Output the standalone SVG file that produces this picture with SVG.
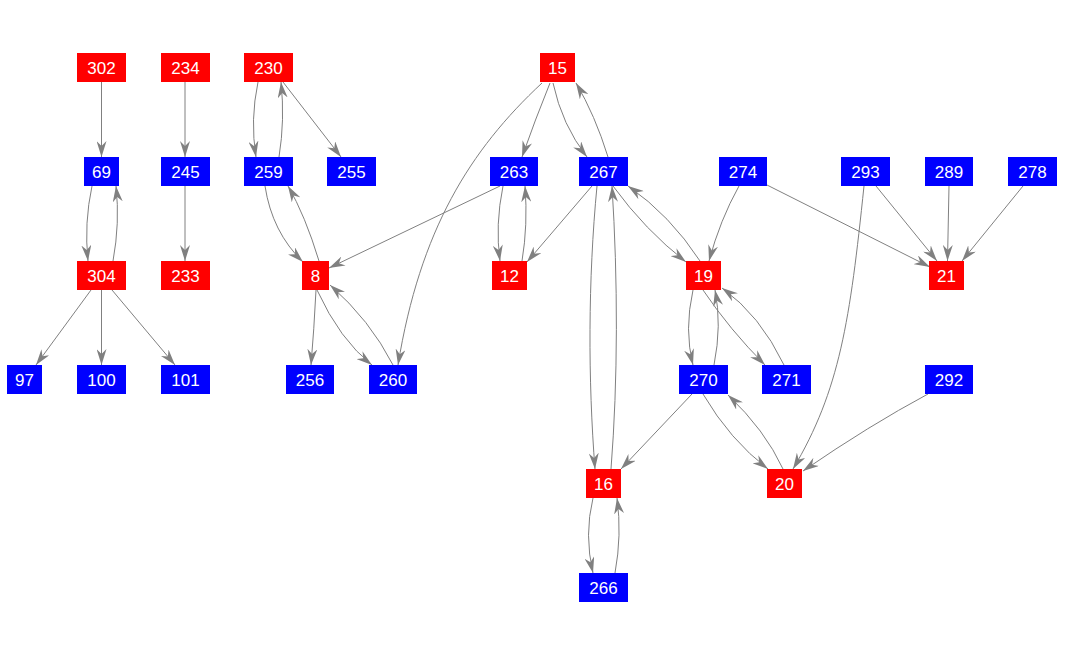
<svg xmlns="http://www.w3.org/2000/svg" width="1065" height="656" viewBox="0 0 1065 656">
<defs>
<style>
.r{fill:#ff0000}
.b{fill:#0000ff}
text{font-family:"Liberation Sans",Arial,sans-serif;font-size:17px;fill:#ffffff;text-anchor:middle}
#edges path{fill:none;stroke:#808080;stroke-width:1;marker-end:url(#ah)}
</style>
<marker id="ah" viewBox="0 0 16 10" refX="16" refY="5" markerWidth="16" markerHeight="10" markerUnits="userSpaceOnUse" orient="auto">
<path d="M0,0 L16,5 L0,10 L5,5 Z" fill="#808080"/>
</marker>
</defs>
<rect width="1065" height="656" fill="#ffffff"/>
<g id="edges">
<path d="M101.5,82 L101.5,157"/>
<path d="M185,82 L185,157"/>
<path d="M185,186 L185,261"/>
<path d="M92,186 Q84,223 88,261"/>
<path d="M113,261 Q120,223 116,186"/>
<path d="M91,290 L36,365"/>
<path d="M101.5,290 L101.5,365"/>
<path d="M112,290 L175,365"/>
<path d="M258,82 Q250,120 256,157"/>
<path d="M279,157 Q285,120 281,82"/>
<path d="M283,82 L341,157"/>
<path d="M265,186 Q272,232 303,262"/>
<path d="M319,261 Q305,215 288,186"/>
<path d="M500,186 L329,268"/>
<path d="M316,290 Q314,330 311,365"/>
<path d="M317,290 Q340,340 372,365"/>
<path d="M393,365 Q370,320 330,285"/>
<path d="M542,83 C470,150 420,230 398,365"/>
<path d="M550,83 Q535,120 522,157"/>
<path d="M553,83 Q562,125 587,157"/>
<path d="M608,157 Q595,115 576,83"/>
<path d="M503,186 Q495,225 500,261"/>
<path d="M522,261 Q528,225 525,186"/>
<path d="M592,186 L527,262"/>
<path d="M597,186 C588,280 588,380 595,469"/>
<path d="M611,469 C618,380 618,280 612,186"/>
<path d="M613,186 Q645,230 686,262"/>
<path d="M700,261 Q670,215 628,186"/>
<path d="M739,186 Q720,220 709,261"/>
<path d="M767,185 L930,267"/>
<path d="M876,186 L937,261"/>
<path d="M949,186 L947.5,261"/>
<path d="M1023,186 L962,261"/>
<path d="M864,186 C850,320 840,390 793,469"/>
<path d="M928,394 Q870,425 803,471"/>
<path d="M693,290 Q684,330 693,365"/>
<path d="M714,365 Q722,325 715,290"/>
<path d="M703,290 Q730,330 765,365"/>
<path d="M784,365 Q760,315 722,288"/>
<path d="M692,394 L621,469"/>
<path d="M703,394 Q730,440 768,469"/>
<path d="M783,469 Q765,430 728,395"/>
<path d="M593,498 Q584,535 593,573"/>
<path d="M615,573 Q622,535 617,498"/>
</g>
<g id="n302"><rect class="r" x="77" y="53" width="49" height="29"/><text x="101.5" y="74">302</text></g>
<g id="n234"><rect class="r" x="161" y="53" width="49" height="29"/><text x="185.5" y="74">234</text></g>
<g id="n230"><rect class="r" x="244" y="53" width="49" height="29"/><text x="268.5" y="74">230</text></g>
<g id="n15"><rect class="r" x="540" y="53" width="35" height="29"/><text x="557.5" y="74">15</text></g>
<g id="n69"><rect class="b" x="84" y="157" width="35" height="29"/><text x="101.5" y="178">69</text></g>
<g id="n245"><rect class="b" x="161" y="157" width="49" height="29"/><text x="185.5" y="178">245</text></g>
<g id="n259"><rect class="b" x="244" y="157" width="49" height="29"/><text x="268.5" y="178">259</text></g>
<g id="n255"><rect class="b" x="327" y="157" width="49" height="29"/><text x="351.5" y="178">255</text></g>
<g id="n263"><rect class="b" x="490" y="157" width="48" height="29"/><text x="514" y="178">263</text></g>
<g id="n267"><rect class="b" x="579" y="157" width="49" height="29"/><text x="603.5" y="178">267</text></g>
<g id="n274"><rect class="b" x="719" y="157" width="48" height="29"/><text x="743" y="178">274</text></g>
<g id="n293"><rect class="b" x="841" y="157" width="49" height="29"/><text x="865.5" y="178">293</text></g>
<g id="n289"><rect class="b" x="925" y="157" width="48" height="29"/><text x="949" y="178">289</text></g>
<g id="n278"><rect class="b" x="1008" y="157" width="49" height="29"/><text x="1032.5" y="178">278</text></g>
<g id="n304"><rect class="r" x="77" y="261" width="49" height="29"/><text x="101.5" y="282">304</text></g>
<g id="n233"><rect class="r" x="161" y="261" width="49" height="29"/><text x="185.5" y="282">233</text></g>
<g id="n8"><rect class="r" x="302" y="261" width="27" height="29"/><text x="315.5" y="282">8</text></g>
<g id="n12"><rect class="r" x="492" y="261" width="35" height="29"/><text x="509.5" y="282">12</text></g>
<g id="n19"><rect class="r" x="686" y="261" width="35" height="29"/><text x="703.5" y="282">19</text></g>
<g id="n21"><rect class="r" x="929" y="261" width="35" height="29"/><text x="946.5" y="282">21</text></g>
<g id="n97"><rect class="b" x="7" y="365" width="35" height="29"/><text x="24.5" y="386">97</text></g>
<g id="n100"><rect class="b" x="77" y="365" width="49" height="29"/><text x="101.5" y="386">100</text></g>
<g id="n101"><rect class="b" x="161" y="365" width="49" height="29"/><text x="185.5" y="386">101</text></g>
<g id="n256"><rect class="b" x="286" y="365" width="48" height="29"/><text x="310" y="386">256</text></g>
<g id="n260"><rect class="b" x="369" y="365" width="48" height="29"/><text x="393" y="386">260</text></g>
<g id="n270"><rect class="b" x="679" y="365" width="49" height="29"/><text x="703.5" y="386">270</text></g>
<g id="n271"><rect class="b" x="762" y="365" width="49" height="29"/><text x="786.5" y="386">271</text></g>
<g id="n292"><rect class="b" x="925" y="365" width="48" height="29"/><text x="949" y="386">292</text></g>
<g id="n16"><rect class="r" x="586" y="469" width="35" height="29"/><text x="603.5" y="490">16</text></g>
<g id="n20"><rect class="r" x="767" y="469" width="35" height="29"/><text x="784.5" y="490">20</text></g>
<g id="n266"><rect class="b" x="579" y="573" width="49" height="29"/><text x="603.5" y="594">266</text></g>
</svg>
